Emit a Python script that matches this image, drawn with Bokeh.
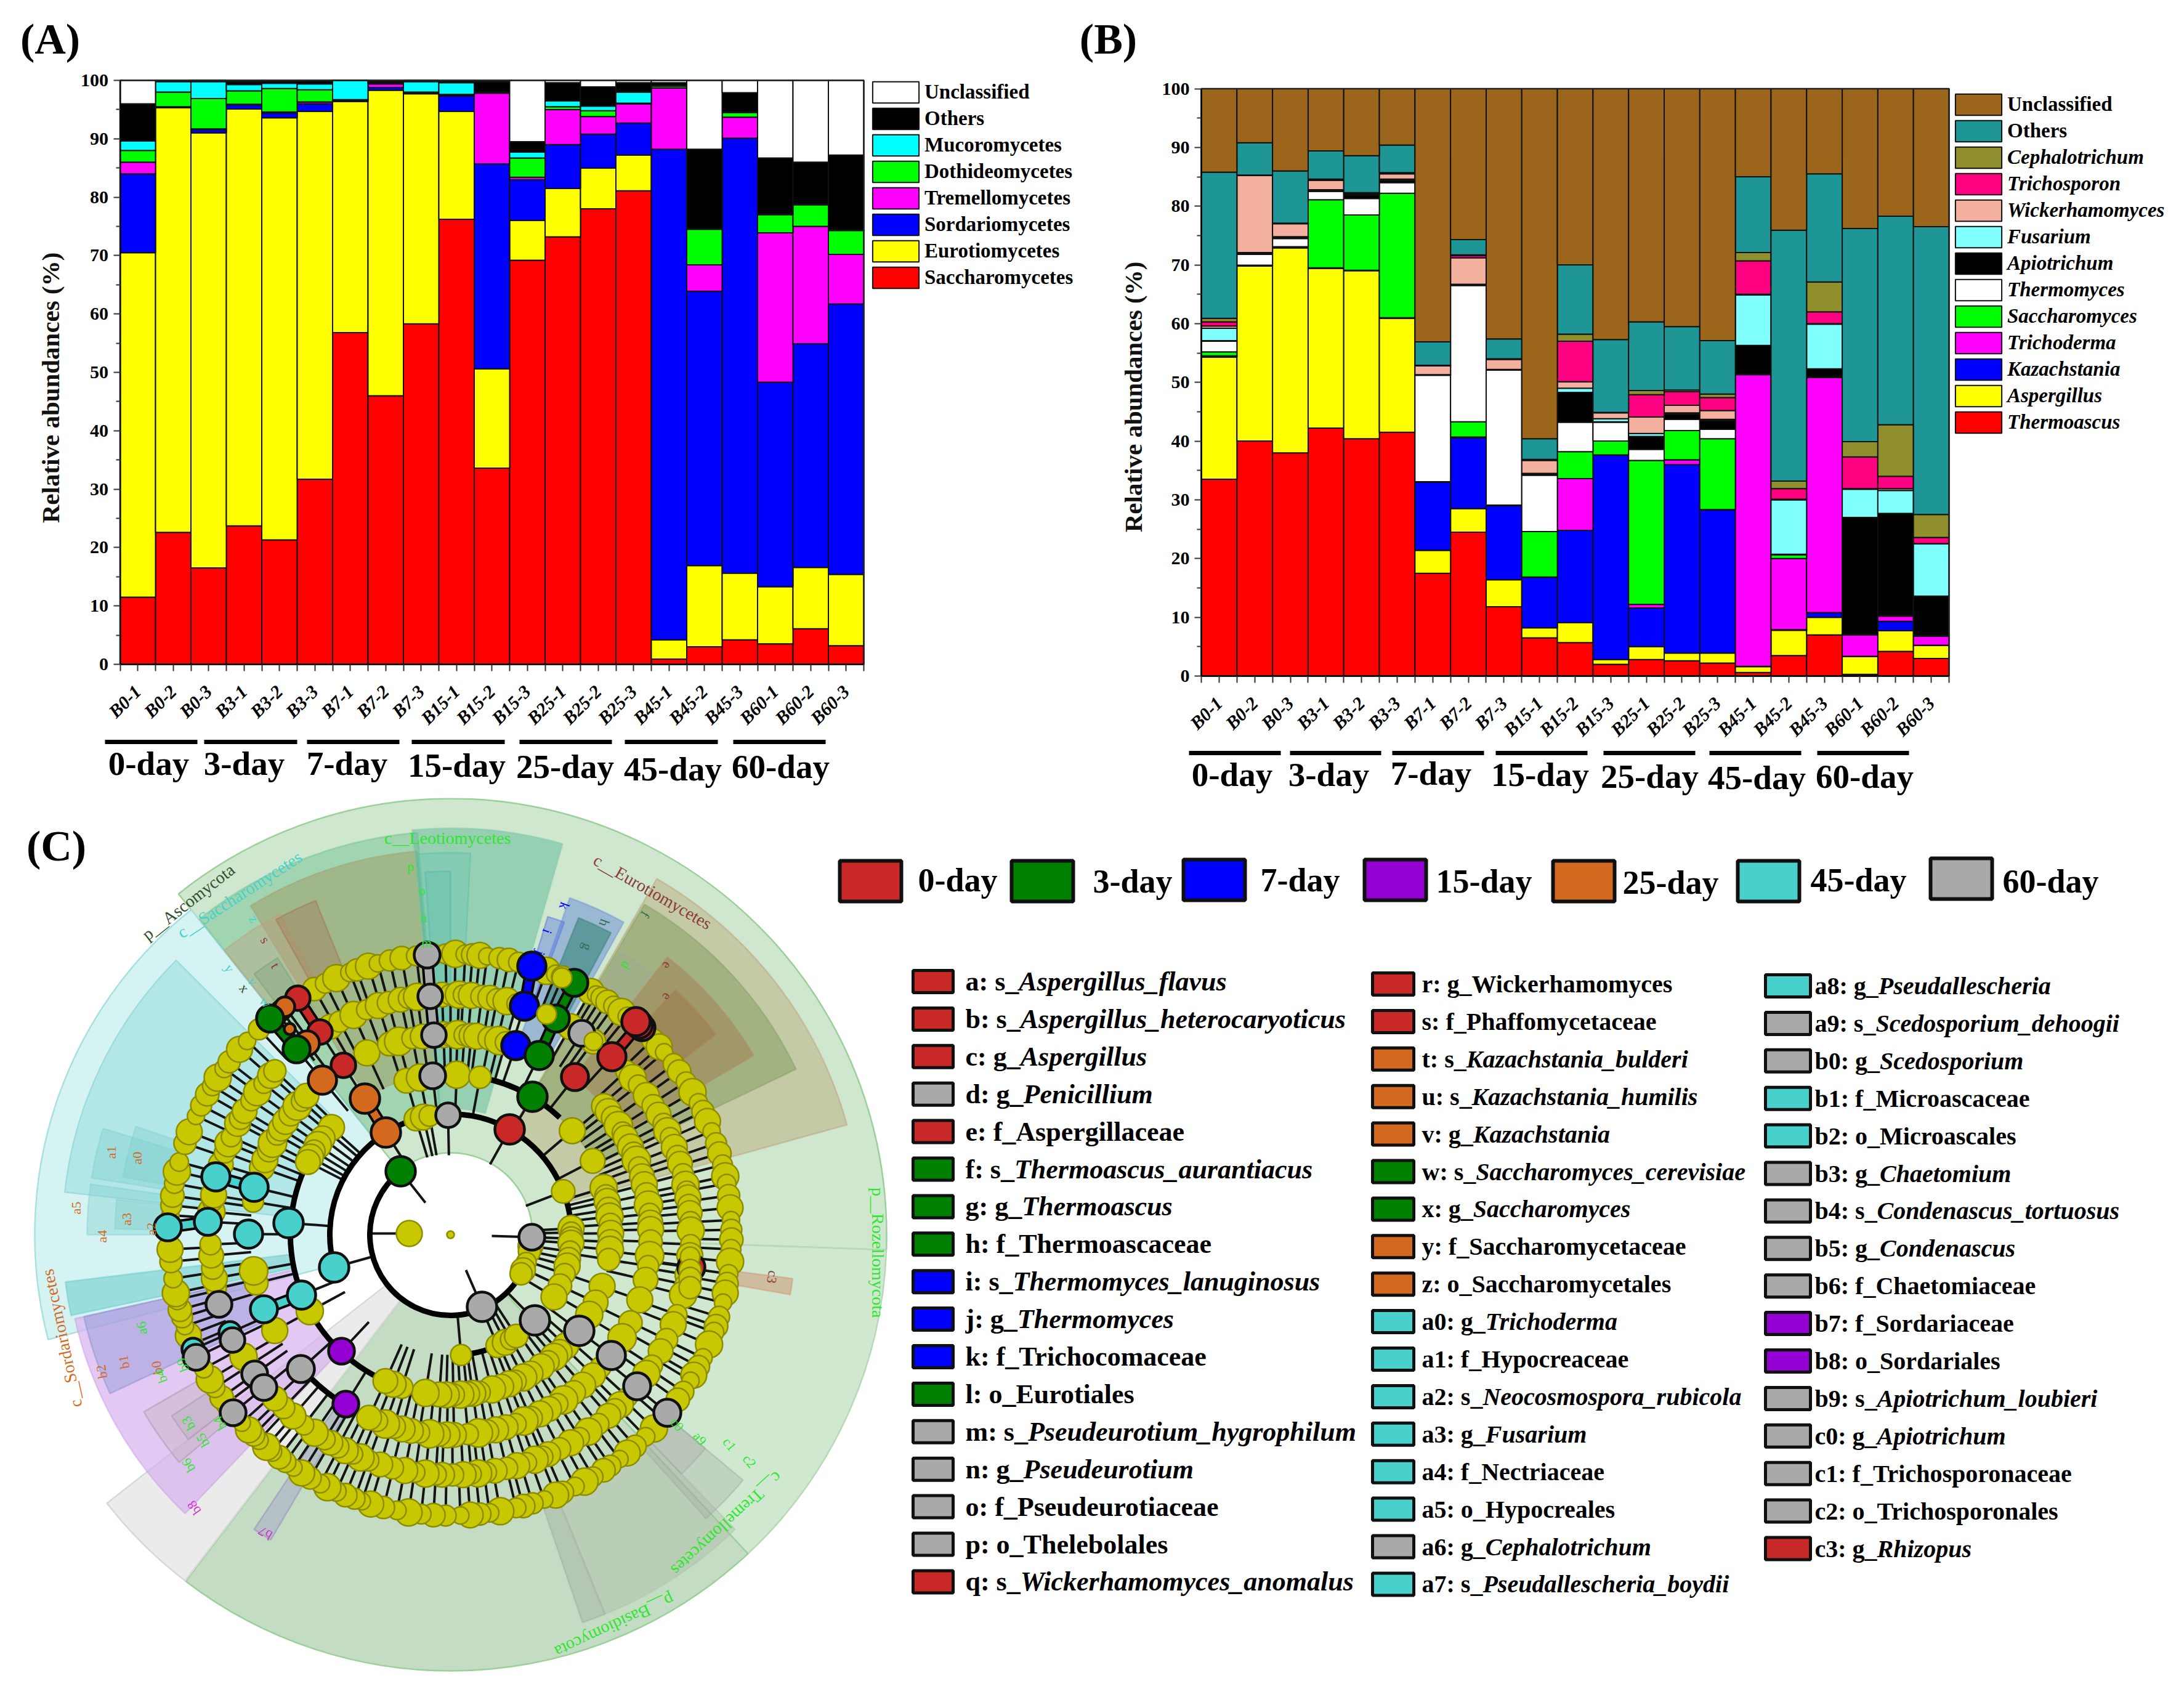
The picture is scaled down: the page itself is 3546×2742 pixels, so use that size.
import numpy as np
from bokeh.core.properties import value
from bokeh.embed import file_html
from bokeh.layouts import column, row
from bokeh.models import (Arrow, ColumnDataSource, FixedTicker, Label, Legend, LegendItem, Range1d)
from bokeh.plotting import figure
from bokeh.resources import INLINE

SERIF = "Liberation Serif"

samples = ["B0-1","B0-2","B0-3","B3-1","B3-2","B3-3","B7-1","B7-2","B7-3","B15-1","B15-2","B15-3",
           "B25-1","B25-2","B25-3","B45-1","B45-2","B45-3","B60-1","B60-2","B60-3"]
days = ["0-day","3-day","7-day","15-day","25-day","45-day","60-day"]

# Panel A: upper edge of every stacked segment (%)
a_saccharomycetes = [11.5,22.6,16.5,23.7,21.3,31.7,56.8,46,58.3,76.2,33.6,69.2,73.2,78,81.1,0.9,3,4.2,3.5,6.1,3.2]
a_eurotiomycetes = [70.5,95.3,91,95.1,93.6,94.7,96.4,98.3,97.7,94.7,50.6,76,81.5,85,87.2,4.2,16.9,15.6,13.3,16.6,15.4]
a_sordariomycetes = [84,95.4,91.6,95.8,94.4,96,96.5,98.8,97.8,97.3,85.7,83,89,90.8,92.7,88.2,63.9,90.1,48.3,54.9,61.7]
a_tremellomycetes = [86,95.5,91.7,95.9,94.6,96.3,96.6,99.4,97.9,97.4,97.8,83.4,95,93.8,96,98.7,68.4,93.7,73.9,75,70.2]
a_dothideomycetes = [88,98,96.9,98.2,98.6,98.4,96.7,99.5,98,97.6,97.9,86.7,95.5,94.8,96.1,99,74.5,94.5,77,78.7,74.3]
a_mucoromycetes = [89.6,99.8,99.8,99.3,99.5,99.4,100,99.6,99.8,99.6,98,87.7,96.5,95.6,98,99.1,74.6,94.6,77.1,78.8,74.4]
a_others = [96,99.9,100,99.8,99.9,99.9,100,99.9,100,99.9,99.8,89.5,99.6,98.9,99.6,99.6,88.2,97.9,86.7,86,87.2]
a_unclassified = [100]*21
a_names = ["Saccharomycetes","Eurotiomycetes","Sordariomycetes","Tremellomycetes","Dothideomycetes","Mucoromycetes","Others","Unclassified"]
a_colors = ["#FF0000","#FFFF00","#0000FF","#FF00FF","#00FF00","#00FFFF","#000000","#FFFFFF"]
a_tops = [a_saccharomycetes,a_eurotiomycetes,a_sordariomycetes,a_tremellomycetes,a_dothideomycetes,a_mucoromycetes,a_others,a_unclassified]

# Panel B: upper edge of every stacked segment (%)
b_thermoascus = [33.5,40,38,42.2,40.4,41.5,17.5,24.5,11.8,6.5,5.7,2,2.8,2.6,2.2,0.6,3.5,7,0.3,4.2,3]
b_aspergillus = [54.3,69.8,72.9,69.4,69,60.9,21.4,28.5,16.4,8.2,9.1,2.8,5,3.9,3.9,1.6,7.8,10,3.3,7.7,5.2]
b_kazachstania = [54.4,69.85,72.95,69.45,69.05,60.95,33,40.6,29,16.8,24.8,37.6,11.6,36,28.3,1.65,7.9,10.8,3.35,9.3,5.25]
b_trichoderma = [54.5,69.9,73,69.5,69.1,61,33.05,40.7,29.05,16.85,33.6,37.65,12.2,36.8,28.35,51.3,20,50.8,7,10.2,6.8]
b_saccharomyces = [55.2,69.95,73.1,81.1,78.5,82.2,33.1,43.3,29.1,24.6,38.2,40,36.7,41.8,40.4,51.35,20.6,50.85,7.05,10.25,6.85]
b_thermomyces = [57,71.8,74.5,82.5,81.3,84,51.2,66.5,52.1,34.2,43.2,43.2,38.6,43.7,42,51.4,20.7,50.9,7.1,10.3,6.9]
b_apiotrichum = [57.1,72,74.7,82.7,81.9,84.4,51.25,66.6,52.15,34.4,48.3,43.3,40.8,44.6,43.5,56.3,20.75,52.3,27,27.7,13.6]
b_fusarium = [59.2,72.1,74.8,82.8,82,84.6,51.3,66.7,52.2,34.5,49,43.8,41.3,44.8,43.7,64.9,30,59.9,31.8,31.6,22.5]
b_wickerhamomyces = [59.6,85.2,77,84.4,82.2,85.5,52.8,71.2,53.9,36.7,50.1,44.8,44.1,46.1,45.2,65,30.1,60,31.9,31.9,22.55]
b_trichosporon = [60.3,85.25,77.05,84.5,82.25,85.6,52.85,71.6,53.95,36.75,57,44.85,47.9,48.4,47.4,70.7,31.9,62,37.3,34,23.6]
b_cephalotrichum = [60.9,85.3,77.1,84.6,82.3,85.7,52.9,71.7,54,36.9,58.2,44.9,48.6,48.7,48,72.1,33.2,67.1,39.9,42.8,27.5]
b_others = [85.8,90.8,86,89.4,88.6,90.4,56.9,74.3,57.4,40.4,70,57.3,60.3,59.5,57.1,85,75.9,85.5,76.2,78.3,76.5]
b_unclassified = [100]*21
b_names = ["Thermoascus","Aspergillus","Kazachstania","Trichoderma","Saccharomyces","Thermomyces","Apiotrichum","Fusarium","Wickerhamomyces","Trichosporon","Cephalotrichum","Others","Unclassified"]
b_colors = ["#FF0000","#FFFF00","#0000FF","#FF00FF","#00FF00","#FFFFFF","#000000","#80FFFF","#F4B09E","#FF0080","#8F8F2E","#1F9696","#9B651B"]
b_tops = [b_thermoascus,b_aspergillus,b_kazachstania,b_trichoderma,b_saccharomyces,b_thermomyces,b_apiotrichum,b_fusarium,b_wickerhamomyces,b_trichosporon,b_cephalotrichum,b_others,b_unclassified]

# Panel C legend text: (letter prefix, taxon, italic taxon?)
clade_legend_1 = [("a: s_","Aspergillus_flavus",1,"r"),("b: s_","Aspergillus_heterocaryoticus",1,"r"),("c: g_","Aspergillus",1,"r"),("d: g_","Penicillium",1,"a"),
    ("e: f_","Aspergillaceae",0,"r"),("f: s_","Thermoascus_aurantiacus",1,"g"),("g: g_","Thermoascus",1,"g"),("h: f_","Thermoascaceae",0,"g"),
    ("i: s_","Thermomyces_lanuginosus",1,"b"),("j: g_","Thermomyces",1,"b"),("k: f_","Trichocomaceae",0,"b"),("l: o_","Eurotiales",0,"g"),
    ("m: s_","Pseudeurotium_hygrophilum",1,"a"),("n: g_","Pseudeurotium",1,"a"),("o: f_","Pseudeurotiaceae",0,"a"),("p: o_","Thelebolales",0,"a"),("q: s_","Wickerhamomyces_anomalus",1,"r")]
clade_legend_2 = [("r: g_","Wickerhamomyces",0,"r"),("s: f_","Phaffomycetaceae",0,"r"),("t: s_","Kazachstania_bulderi",1,"o"),("u: s_","Kazachstania_humilis",1,"o"),
    ("v: g_","Kazachstania",1,"o"),("w: s_","Saccharomyces_cerevisiae",1,"g"),("x: g_","Saccharomyces",1,"g"),("y: f_","Saccharomycetaceae",0,"o"),("z: o_","Saccharomycetales",0,"o"),
    ("a0: g_","Trichoderma",1,"t"),("a1: f_","Hypocreaceae",0,"t"),("a2: s_","Neocosmospora_rubicola",1,"t"),("a3: g_","Fusarium",1,"t"),("a4: f_","Nectriaceae",0,"t"),
    ("a5: o_","Hypocreales",0,"t"),("a6: g_","Cephalotrichum",1,"a"),("a7: s_","Pseudallescheria_boydii",1,"t")]
clade_legend_3 = [("a8: g_","Pseudallescheria",1,"t"),("a9: s_","Scedosporium_dehoogii",1,"a"),("b0: g_","Scedosporium",1,"a"),("b1: f_","Microascaceae",0,"t"),("b2: o_","Microascales",0,"t"),
    ("b3: g_","Chaetomium",1,"a"),("b4: s_","Condenascus_tortuosus",1,"a"),("b5: g_","Condenascus",1,"a"),("b6: f_","Chaetomiaceae",0,"a"),("b7: f_","Sordariaceae",0,"p"),("b8: o_","Sordariales",0,"p"),
    ("b9: s_","Apiotrichum_loubieri",1,"a"),("c0: g_","Apiotrichum",1,"a"),("c1: f_","Trichosporonaceae",0,"a"),("c2: o_","Trichosporonales",0,"a"),("c3: g_","Rhizopus",1,"r")]
day_color = {"r":"#C82828","g":"#008000","b":"#0000FF","p":"#9400D3","o":"#D2691E","t":"#48D1CC","a":"#A9A9A9"}
day_order = ["r","g","b","p","o","t","a"]

# Cladogram: angle (deg) of the yellow nodes on each ring
ring_456 = [94,91,89,87,85.5,84,82.5,80,78,76,70,68,66.5,60,58.8,57.5,56,54.5,52.5,51,44,42,40.5,37.4,35.5,33,30.5,28,26,23.8,21.6,19,16.8,14.4,12,10.5,8,5.5,3,1,
    -1,-3,-5.5,-8,-10,-12,-14,-17,-19,-20.3,-23,-26,-28,-30,-31.3,-34,-36,-41,-43.6,-46,-48.9,-51,-53,-55.3,-57,-59.5,-61.5,-63.7,-66.5,-68,-70.5,-73,-75,-76.5,-79.8,-82,-84,-86,-88,
    -91,-93.5,-96,-98.6,-101,-103.8,-106.5,-108.4,-110,-112,-114,-116,-117.6,-120,-122,-124,-126,-127.6,-129.5,-131,-133,-134.5,-136,-138,-143,-144.6,-147,-149,-151.5,-157,-159,-161,-162.9,-164.5,-166.6,-168,-171,-174.5,-177,
    176,174,172,169.5,167,165,161,158.5,155,152.6,150,148,146,143.7,142,138.7,136.4,133,119,116.5,114,111,109.5,107,105,102.5,100,97]
ring_390 = [92,90,88,87,85,82.5,80.5,78.8,76.5,74,60,55,53.5,43,40.7,38.6,35.4,32.5,30,27.5,25.5,23.9,21.3,19,17.2,14.6,12,10.5,8.8,7,5.2,3,1,-2.3,-5,-7.5,-9.6,-12,-14.5,-19.4,-22,-25.9,-29,-33,-35.4,-42.5,-45,-46.8,-48.9,-52,-55,-57.5,-60,-63,-66,-67.5,-69.5,-71.5,-74,-76.5,-79.4,-81.5,-83.4,-85,-87,-89.5,
    -92,-93.5,-96,-98.5,-101,-104,-107,-110,-112,-114,-116,-118,-120,-121.6,-124.5,-127.6,-131,-134,-137,-147,-149.5,-167,-169.5,-172,-175,-177.7,174.5,172,170.5,167,163,160,157.6,156,152.4,151,149,146,143.6,141,138.5,137,120,117.5,113.8,110.5,107.5,105,102,100,98]
ring_325 = [92,90,88,86,84,82.5,78.7,76,74,40,38,35.7,33,30.7,29,26,23.8,21.8,19.7,17,14.5,11.6,8.5,6,3.5,1.5,-2,-6,-9,-13,-19,-26,-31,-41.5,-44.6,-48.7,-52,-55.6,-57.7,-60.5,-63.5,-66.4,-68.5,-71,-74,-77,-79.5,-82,-85,-89,
    -91,-93.4,-96,-99,-101.4,-104,-106.5,-109,-111.5,-114,-151.4,-166,-169.6,170.5,160.5,158,155,152.8,150,148,145.5,143,140,138,136,114.7,107.8,105,101,98]
ring_260 = [106,101,140,138,143,146,148.5,151,153,87.8,79.4,40.5,27.4,17,14,12,9,6.5,3.7,0.5,-2.6,-5.4,-8.9,-18.8,-25,-30,-41,-44,-47,-49.7,-52.5,-55.5,-60,-63,-66.2,-68.5,-71.5,-75,-79.7,-82,-84,-86.5,-89,-91.5,-94,-99,-107.7,-111,-114,-151.5]
ring_196 = [106.7,103,100,21,3,1,-1.8,-4,-8,-11.7,-15,-19,-25,-31,-85,-67,-63,-60,-57]
ring_131 = [-8,-12,-20,-26,-29]
ring_size_456 = [19,16,22,15,18,21,14,17]
ring_size_390 = [20,17,22,16,21,18]
ring_size_325 = [21,19,23,17,20]
ring_size_260 = [20,22,18,21]
ring_size_196 = [19,21,17]
ring_size_131 = [20,18,16]

# Cladogram: coloured nodes
node_x = [483,450,456,462,438,519,470,498,481,557,523,592,626,650,350,412,337,272,403,468,693,698,704,702,727,863,851,837,932,902,875,864,933,827,1042,1037,1032,993,944,542,489,428,554,561,488,373,313,413,428,377,355,318,378,863,782,868,940,992,1034,1083,1122]
node_y = [1620,1645,1640,1634,1653,1675,1670,1693,1703,1729,1753,1783,1838,1901,1910,1927,1983,1992,2003,1985,1550,1617,1680,1746,1810,1568,1633,1697,1595,1653,1713,1780,1748,1833,1668,1663,1658,1715,1677,2057,2102,2125,2193,2279,2222,2163,2190,2230,2252,2175,2117,2203,2293,2008,2121,2143,2160,2200,2250,2293,2057]
node_r = [20,16,16,16,22,20,9,20,22,20,23,24,24,24,23,23,22,22,23,24,21,20,20,21,20,23,23,23,22,22,23,24,22,24,21,22,23,23,21,24,23,22,21,21,22,18,18,21,21,20,21,21,21,21,24,24,24,23,22,22,22]
node_c = list("roooxrooxrooox" .replace("x","g")) + list("tttttt") + list("aaaaa") + list("bbb") + list("gggg") + list("rr") + list("rrrr") + list("a") + list("ttt") + list("pp") + list("a") + list("tt") + list("aaaaaa") + list("aaaaaaa") + list("r")
# pairs of coloured nodes joined by a thick coloured branch
thick_links = [(20,21),(21,22),(25,26),(28,29),(0,5),(35,37),(11,12),(14,15),(17,16),(40,41),(4,8),(49,45),(51,46),(29,30)]
# yellow nodes that lie over coloured ones
over_x = [912,887,963,1120,1120,1120,1120]
over_y = [1587,1646,1690,2040,2062,2075,2090]
over_r = [16,16,15,16,18,18,18]
# extra yellow nodes off the rings
root_x = [664,731]
root_y = [2002,2004]
root_r = [21,6]

# clade wedges: inner r, outer r, from angle, to angle (deg), fill, alpha, line
wedges = [
 (133,708,-2,128.6,"#CEE7CE",1,"#9AD09A"),(133,708,-47,-2,"#CFE8CF",1,"#B8D8B8"),(133,708,232.6,313,"#C4DBC4",1,"#9AD09A"),
 (135,708,218,232.5,"#EBEBEB",1,"#D8D8D8"),(198,675,128.6,194.6,"#D6F3F3",1,"#A8E0E0"),(262,630,135,173.7,"#B3E7E7",1,"#9FDCDC"),
 (460,590,163,171,"#80D0D0",.4,"#80D0D0"),(460,540,161,170,"#80D0D0",.4,"#80D0D0"),(460,590,172,180,"#80D0D0",.4,"#80D0D0"),(460,545,174,179,"#80D0D0",.4,"#80D0D0"),
 (260,630,187,192,"#60C8C8",.5,"#60C8C8"),(260,625,192.6,226.4,"#D8B0F0",.7,"#C49AE0"),(330,610,192.6,205,"#8090D0",.4,"#8090D0"),
 (460,575,210,220,"#B0A0A0",.25,"#A090A0"),(460,540,213,218,"#A0A0A0",.25,"#A090A0"),(330,575,236.3,239.5,"#9080C0",.3,"#9080C0"),
 (456,665,-71.2,-67.8,"#909890",.3,"#A0A8A0"),(456,665,-68,-46,"#A8B8A0",.35,"#B0C0A8"),(460,620,-48,-40,"#A0A0A0",.3,"#A0A8A0"),(460,540,-46,-40,"#A0A0A0",.25,"#A0A8A0"),
 (456,560,-10,-7.3,"#D09070",.5,"#D09070"),
 (196,655,94.7,128.5,"#60B888",.4,"#70C090"),(262,625,95,121.3,"#A09050",.42,"#A89870"),(456,590,118,128.5,"#C0A080",.4,"#C0A080"),(456,585,112,119,"#A07050",.35,"#A07050"),(456,530,122,127,"#70A070",.3,"#70A070"),
 (205,660,74,95.4,"#60B898",.5,"#80C8A8"),(262,620,87,95,"#50C0B0",.25,"#50C0B0"),(325,590,90,94,"#50B8A8",.25,"#50B8A8"),
 (325,580,61,70.5,"#7090D8",.55,"#7090D8"),(390,540,70,73,"#5070E0",.4,"#5070E0"),(390,555,62,68,"#308070",.55,"#308070"),
 (196,668,15.5,59.9,"#B8A070",.42,"#C09878"),(260,622,25.6,59.6,"#709048",.4,"#80A060"),(456,535,52.5,59,"#A0A8A0",.3,"#A0A8A0"),(325,572,30.6,52,"#A06840",.35,"#B88870"),(390,540,37,47.5,"#906030",.3,"#B88060"),
]
# branches drawn as thick arcs: radius, from, to (deg)
arcs = [(131,128,360),(196,122,196),(196,-5,122),(196,-85,-67),(260,150,247),(260,47,79),(325,222,238)]

# cladogram labels: text, x, y in the enlarged crop, angle, colour, size
clade_labels = [("p__Ascomycota",330,178,38,"#2F4F2F",28),("c__Saccharomycetes",420,165,33,"#48D1CC",28),("c__Leotiomycetes",785,65,0,"#2EE62E",28),
 ("c__Eurotiomycetes",1145,160,-30,"#8B3A3A",28),("p__Rozellomycota",1540,797,-90,"#2EE62E",28),("c__Tremellomycetes",1275,1275,222.6,"#2EE62E",28),
 ("p__Basidiomycota",1078,1455,204.9,"#2EE62E",28),("c__Sordariomycetes",108,948,102,"#D2691E",28),
 ("m",748,250,0,"#2EE62E",22),("n",743,205,0,"#2EE62E",22),("o",740,158,0,"#2EE62E",22),("p",720,115,0,"#2EE62E",22),
 ("s",465,245,-60,"#8B3A3A",22),("z",445,208,-60,"#48D1CC",22),("t",483,290,-60,"#8B3A3A",22),("y",402,295,-60,"#48D1CC",22),("v",443,318,-60,"#48D1CC",22),("x",428,330,-50,"#2F4F2F",22),("w",465,355,-50,"#48D1CC",22),
 ("e",1170,290,-120,"#8B3A3A",22),("e",1170,345,-120,"#8B3A3A",22),("d",1098,290,-120,"#2EE62E",22),("f",1132,200,-120,"#2F6F4F",22),("h",1060,215,-110,"#2F6F4F",22),("g",1030,258,-110,"#2F6F4F",22),("k",990,185,-110,"#0000FF",22),("i",960,230,-110,"#0000FF",22),("j",948,268,-110,"#0000FF",22),
 ("a1",195,620,90,"#D2691E",22),("a0",240,630,90,"#D2691E",22),("a5",133,718,90,"#D2691E",22),("a3",222,738,90,"#D2691E",22),("a4",178,768,90,"#D2691E",22),("a2",265,755,90,"#D2691E",22),
 ("a6",248,930,100,"#2EE62E",22),("b2",178,1007,100,"#D2691E",22),("b1",217,990,100,"#D2691E",22),("b0",275,1000,100,"#D2691E",22),("b4",282,1015,110,"#2EE62E",22),("b9",320,995,110,"#2EE62E",22),
 ("b3",330,1098,120,"#2EE62E",22),("b5",355,1128,120,"#2EE62E",22),("b4",385,1098,120,"#2EE62E",22),("b6",330,1172,120,"#2EE62E",22),("b8",340,1247,125,"#CC33CC",22),("b7",465,1292,150,"#CC33CC",22),
 ("c0",1188,1100,-50,"#2EE62E",22),("a9",1228,1125,-50,"#2EE62E",22),("c1",1280,1135,-50,"#2EE62E",22),("c2",1315,1165,-50,"#2EE62E",22),("c3",1355,840,-100,"#8B3A3A",22)]

# enlarged-crop scale for the labels above
CROP_X, CROP_Y = 1.081, 1.087
CX, CY = 731, 2004  # centre of the cladogram in page pixels
TOP_H = 1295


def bar_panel(fig_left, fig_w, fl, fr, ft, fb, tops, colors, ylab_x, ylab_y):
    n = len(samples)
    px = (fr - fl) / n
    to_x = lambda v: (v - fl) / px - 0.5
    to_y = lambda v: (fb - v) / (fb - ft) * 100
    # the frame fills the figure, so legend and group marks beside the plot stay visible
    p = figure(width=fig_w, height=TOP_H, x_range=Range1d(to_x(fig_left), to_x(fig_left + fig_w)),
               y_range=Range1d(to_y(TOP_H), to_y(0)), output_backend="svg", toolbar_location=None, min_border=0)
    p.grid.visible = False
    p.outline_line_color = None
    x = list(range(n))
    prev = [0] * n
    rends = []
    for t, c in zip(tops, colors):
        rends.append(p.vbar(x=x, bottom=prev, top=t, width=1, fill_color=c, line_color="#111111", line_width=2))
        prev = t
    p.quad(left=[-0.5], right=[n - 0.5], bottom=[0], top=[100], fill_alpha=0, line_color="#222222", line_width=2.5)
    ya = p.yaxis[0]; xa = p.xaxis[0]
    ya.fixed_location = -0.5; xa.fixed_location = 0
    ya.bounds = (0, 100); xa.bounds = (-0.5, n - 0.5)
    ya.ticker = FixedTicker(ticks=list(range(0, 101, 10)), minor_ticks=list(range(5, 100, 10)))
    xa.ticker = FixedTicker(ticks=x, minor_ticks=[i - 0.5 for i in range(n + 1)])
    xa.major_label_overrides = {i: s for i, s in enumerate(samples)}
    xa.major_label_orientation = np.pi / 4
    xa.major_label_text_font = SERIF; xa.major_label_text_font_style = "bold italic"; xa.major_label_text_font_size = "30px"
    xa.major_label_standoff = 28
    ya.major_label_text_font = SERIF; ya.major_label_text_font_style = "bold"; ya.major_label_text_font_size = "30px"
    ya.major_label_standoff = 8
    for a in (xa, ya):
        a.major_label_text_color = "black"
        a.major_tick_in = 0; a.major_tick_out = 11; a.minor_tick_in = 0; a.minor_tick_out = 11 if a is xa else 7
        a.major_tick_line_width = 2; a.minor_tick_line_width = 2; a.axis_line_width = 2
        a.major_tick_line_color = "#333333"; a.minor_tick_line_color = "#333333"
    p.add_layout(Label(x=to_x(ylab_x), y=to_y(ylab_y), text="Relative abundances (%)", angle=np.pi / 2, text_align="center",
                       text_baseline="middle", text_font=SERIF, text_font_style="bold", text_font_size="41px", text_color="#111111"))
    return p, rends, to_x, to_y


def legend_block(p, items, italic, x, y, fs="33px"):
    # Bokeh draws the bar swatch at 80% of the glyph box
    leg = Legend(items=[LegendItem(label=value(n), renderers=[r]) for n, r in items],
                 location=(x, y), orientation="vertical", glyph_width=94, glyph_height=43, spacing=0,
                 padding=0, margin=0, label_standoff=0, label_height=43, border_line_color=None,
                 background_fill_alpha=0, label_text_font=SERIF, label_text_color="black",
                 label_text_font_style="bold italic" if italic else "bold", label_text_font_size=fs)
    p.add_layout(leg)


def group_marks(p, to_x, to_y, line_px, starts, ends, lab_x, lab_y):
    for d, a, b, lx, ly in zip(days, starts, ends, lab_x, lab_y):
        p.add_layout(Arrow(end=None, x_start=to_x(a), x_end=to_x(b), y_start=to_y(line_px), y_end=to_y(line_px), line_width=7, line_color="black"))
        p.add_layout(Label(x=to_x(lx), y=to_y(ly), text=d, text_align="center", text_baseline="middle",
                           text_font=SERIF, text_font_style="bold", text_font_size="55px", text_color="black"))


# Panel A
pa, ra, ax, ay = bar_panel(0, 1748, 194.5, 1402, 130, 1078, a_tops, a_colors, 81, 629)
legend_block(pa, [(a_names[i], ra[i]) for i in range(7, -1, -1)], False, 1407, TOP_H - 472)
group_marks(pa, ax, ay, 1204, [170,331,498,668,843,1014,1190], [320,482,648,819,993,1165,1340],
            [241,396,563,741,917,1092,1267], [1239,1239,1239,1242,1244,1248,1244])
pa.add_layout(Label(x=ax(81), y=ay(63), text="(A)", text_align="center", text_baseline="middle", text_font=SERIF, text_font_style="bold", text_font_size="70px", text_color="black"))

# Panel B
pb, rb, bx, by = bar_panel(1748, 1782, 1950, 3164, 143.5, 1097, b_tops, b_colors, 1839, 644)
legend_block(pb, [(b_names[i], rb[i]) for i in (12, 11)], False, 1417, TOP_H - 234)
legend_block(pb, [(b_names[i], rb[i]) for i in range(10, -1, -1)], True, 1417, TOP_H - 707)
group_marks(pb, bx, by, 1222, [1930,2094,2260,2428,2603,2775,2950], [2079,2242,2409,2577,2752,2924,3099],
            [2000,2157,2323,2500,2678,2852,3027], [1257,1257,1255,1257,1260,1262,1260])
pb.add_layout(Label(x=bx(1799), y=by(63), text="(B)", text_align="center", text_baseline="middle", text_font=SERIF, text_font_style="bold", text_font_size="70px", text_color="black"))

# Panel C
pc = figure(width=3530, height=2726 - TOP_H, x_range=Range1d(0, 3530), y_range=Range1d(-2726, -TOP_H),
            output_backend="svg", toolbar_location=None, min_border=0)
pc.axis.visible = False; pc.grid.visible = False; pc.outline_line_color = None

w = wedges
pc.annular_wedge(x=[CX]*len(w), y=[-CY]*len(w), inner_radius=[v[0] for v in w], outer_radius=[v[1] for v in w],
                 start_angle=[np.radians(v[2]) for v in w], end_angle=[np.radians(v[3]) for v in w],
                 fill_color=[v[4] for v in w], fill_alpha=[v[5] for v in w], line_color=[v[6] for v in w],
                 line_alpha=[1 if v[5] == 1 else 0.45 for v in w], line_width=2.5)


def polar(r, deg):
    d = np.radians(np.asarray(deg, dtype=float))
    return CX + r * np.cos(d), -CY + r * np.sin(d)

rings = [(456, ring_456, ring_size_456), (390, ring_390, ring_size_390), (325, ring_325, ring_size_325), (260, ring_260, ring_size_260), (196, ring_196, ring_size_196), (131, ring_131, ring_size_131)]
for rad, ang, _ in rings[:-1]:
    x0, y0 = polar(rad, ang); x1, y1 = polar(rad - 65, ang)
    pc.segment(x0, y0, x1, y1, line_color="#141414", line_width=4)
nx = np.array(node_x, dtype=float); ny = -np.array(node_y, dtype=float)
nrad = np.hypot(nx - CX, ny + CY); nscale = (nrad - 65) / nrad
pc.segment(nx, ny, CX + (nx - CX) * nscale, -CY + (ny + CY) * nscale, line_color="#141414", line_width=4)
root_link_x = [root_x[0], CX - 131]
pc.line(root_link_x, [-root_y[0], -root_y[0]], line_color="#141414", line_width=4)
for rad, a0, a1 in arcs:
    pc.arc(x=[CX], y=[-CY], radius=[rad], start_angle=[np.radians(a0)], end_angle=[np.radians(a1)], line_color="black", line_width=9)
for i, j in thick_links:
    pc.segment([nx[i]], [ny[i]], [nx[j]], [ny[j]], line_color="black", line_width=20)
    pc.segment([nx[i]], [ny[i]], [nx[j]], [ny[j]], line_color=day_color[node_c[i]], line_width=12)

YELLOW = "#C8C800"; YEDGE = "#8C8C00"
for rad, ang, sizes in reversed(rings):
    x0, y0 = polar(rad, ang)
    rr = [sizes[i % len(sizes)] for i in range(len(ang))]
    pc.circle(x0, y0, radius=rr, fill_color=YELLOW, line_color=YEDGE, line_width=2.5)
pc.circle(root_x, [-v for v in root_y], radius=root_r, fill_color=YELLOW, line_color=YEDGE, line_width=2.5)
pc.circle(nx, ny, radius=node_r, fill_color=[day_color[c] for c in node_c], line_color="#101010", line_width=4.5)
pc.circle(over_x, [-v for v in over_y], radius=over_r, fill_color=YELLOW, line_color=YEDGE, line_width=2.5)

cl = clade_labels
src = ColumnDataSource(dict(x=[v[1] / CROP_X for v in cl], y=[-(1300 + v[2] / CROP_Y) for v in cl], t=[v[0] for v in cl],
                            a=[np.radians(v[3]) for v in cl], c=[v[4] for v in cl], s=[f"{v[5]}px" for v in cl]))
pc.text(x="x", y="y", text="t", angle="a", text_color="c", text_font_size="s", source=src, text_align="center",
        text_baseline="middle", text_font=value(SERIF))

# group legend along the top
group_swatch_x = [1361, 1640, 1919, 2213, 2519, 2819, 3132]
group_text_x = [1490, 1774, 2046, 2331, 2634, 2939, 3251]
group_y = [1430, 1430, 1428, 1428, 1430, 1430, 1426]
group_ty = [1428, 1430, 1428, 1430, 1432, 1428, 1430]
pc.rect(x=[v + 52 for v in group_swatch_x], y=[-v for v in group_y], width=100, height=66,
        fill_color=[day_color[c] for c in day_order], line_color="#101010", line_width=6)
pc.text(x=group_text_x, y=[-v for v in group_ty], text=days, text_baseline="middle", text_font=value(SERIF),
        text_font_style="bold", text_font_size="54px", text_color="black")

CHAR_W = dict(zip("abcdefghijklmnopqrstuvwxyz0123456789:_ ",
    [.5,.556,.444,.556,.444,.333,.5,.556,.278,.333,.556,.278,.833,.556,.5,.556,.556,.444,.389,.333,.556,.5,.722,.5,.5,.444]+[.5]*10+[.333,.5,.25]))


def clade_legend(items, sw_left, sw_right, text_left, y0, step, fs):
    ys = [-(y0 + i * step) for i in range(len(items))]
    pc.rect(x=[(sw_left + sw_right) / 2] * len(items), y=ys, width=sw_right - sw_left, height=36,
            fill_color=[day_color[v[3]] for v in items], line_color="#101010", line_width=5)
    pc.text(x=[text_left] * len(items), y=ys, text=[v[0] for v in items], text_baseline="middle", text_font=value(SERIF),
            text_font_style="bold", text_font_size=f"{fs}px", text_color="black")
    for style, flag in (("bold", 0), ("bold italic", 1)):
        sel = [(v, y) for v, y in zip(items, ys) if v[2] == flag]
        if sel:
            pc.text(x=[text_left + sum(CHAR_W[c] for c in v[0]) * fs for v, _ in sel], y=[y for _, y in sel],
                    text=[v[1] for v, _ in sel], text_baseline="middle", text_font=value(SERIF), text_font_style=style,
                    text_font_size=f"{fs}px", text_color="black")

clade_legend(clade_legend_1, 1482, 1547, 1567, 1593, 60.9, 44)
clade_legend(clade_legend_2, 2228, 2295, 2308, 1597, 60.9, 40)
clade_legend(clade_legend_3, 2866, 2939, 2946, 1600, 60.9, 40)

pc.text(x=[91], y=[-1373], text=["(C)"], text_align="center", text_baseline="middle", text_font=value(SERIF),
        text_font_style="bold", text_font_size="70px", text_color="black")

layout = column(row(pa, pb), pc)
open("out.html", "w").write(file_html(layout, INLINE))
